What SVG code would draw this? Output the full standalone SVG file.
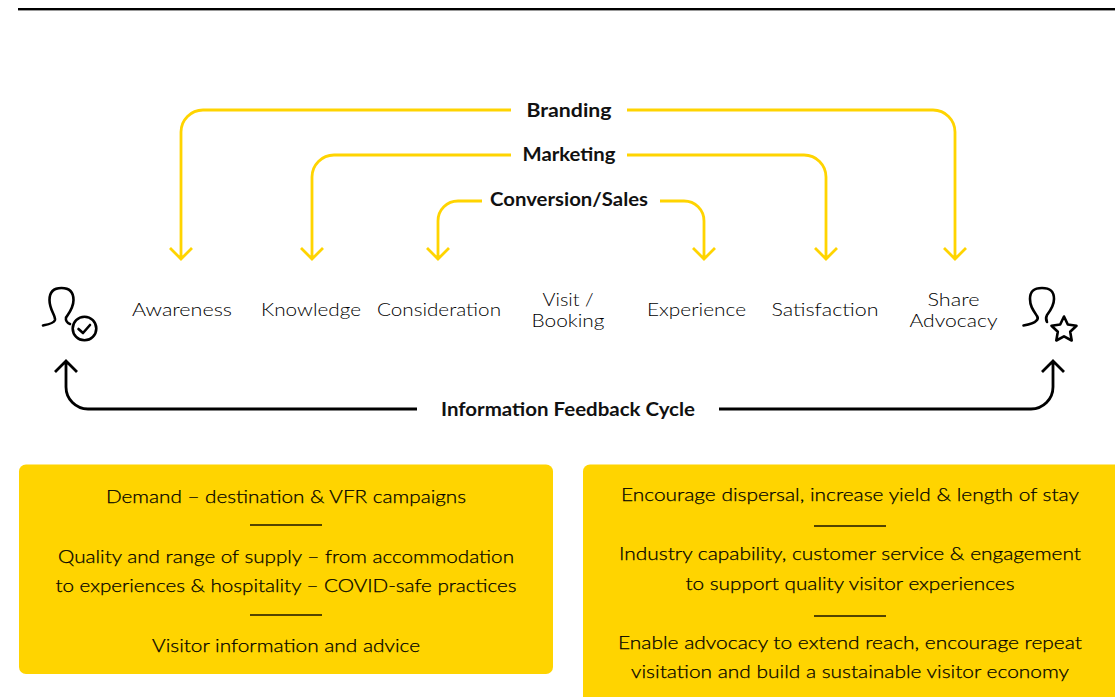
<svg xmlns="http://www.w3.org/2000/svg" width="1115" height="697" viewBox="0 0 1115 697">
<style>
text{font-family:"Lato","Liberation Sans",sans-serif;text-anchor:middle}
.s{font-size:18.5px;fill:#000;font-weight:300}
.b{font-size:18.5px;fill:#111;font-weight:700}
.t{font-size:18.5px;fill:#000;stroke:#000;stroke-width:.25;font-weight:300}
.y{fill:none;stroke:#ffd400;stroke-width:2.8}
.k{fill:none;stroke:#000;stroke-width:2.8}
.i{fill:none;stroke:#000;stroke-width:2.6;stroke-linecap:round;stroke-linejoin:round}
.box{fill:#ffd400}
.d{stroke:#1a1500;stroke-width:1.5}
</style>
<rect x="18" y="8" width="1097" height="2.400" fill="#000"/>
<g id="connectors">
<path class="y" d="M511 110H203A22 22 0 0 0 181 132V259M170 248L181 259L192 248"/>
<path class="y" d="M627 110H933A22 22 0 0 1 955 132V259M944 248L955 259L966 248"/>
<path class="y" d="M511 155H334A22 22 0 0 0 312 177V259M301 248L312 259L323 248"/>
<path class="y" d="M627 155H804A22 22 0 0 1 826 177V259M815 248L826 259L837 248"/>
<path class="y" d="M482 201H458A20 20 0 0 0 438 221V259M427 248L438 259L449 248"/>
<path class="y" d="M660 201H684A20 20 0 0 1 704 221V259M693 248L704 259L715 248"/>
<path class="k" d="M417 409H88A22 22 0 0 1 66 387V361M55 372L66 361L77 372"/>
<path class="k" d="M719 409H1031A22 22 0 0 0 1053 387V361M1042 372L1053 361L1064 372"/>
</g>
<g id="label-branding"><text class="b" x="569" y="117" textLength="85" lengthAdjust="spacingAndGlyphs">Branding</text></g>
<g id="label-marketing"><text class="b" x="569" y="161" textLength="93" lengthAdjust="spacingAndGlyphs">Marketing</text></g>
<g id="label-conversion"><text class="b" x="569" y="206" textLength="158" lengthAdjust="spacingAndGlyphs">Conversion/Sales</text></g>
<g id="label-feedback"><text class="b" x="568" y="416" textLength="254" lengthAdjust="spacingAndGlyphs">Information Feedback Cycle</text></g>
<g id="icon-visitor-check">
<path class="i" d="M43 325.500C48 324.500 54 323.500 55 320C55.500 315 49.500 310 49.500 300C49.500 291.500 53.500 288 61.500 288C69.500 288 73.500 291.500 73.500 300C73.500 308 69 313 66 317.500C65.500 320 67 323 70 324"/>
<circle class="i" cx="84.500" cy="328.500" r="11.800"/>
<path class="i" d="M78.500 329L83 333L90 325"/>
</g>
<g id="icon-visitor-star">
<path class="i" d="M1023.500 325.500C1029 324.500 1034 323.500 1036 321C1038 319.500 1038 317.500 1037 316C1033 310 1030 306 1030 299C1030 291 1034 288 1042 288C1050 288 1054 291 1054 299C1054 306 1050 311 1047 315C1046 317 1046 320 1047 322"/>
<path class="i" d="M1064 316.500L1067.800 324.500L1076.500 325.700L1070.200 331.800L1071.700 340.500L1064 336.300L1056.300 340.500L1057.800 331.800L1051.500 325.700L1060.200 324.500Z"/>
</g>
<g id="stage-awareness"><text class="s" x="182" y="316" textLength="100" lengthAdjust="spacingAndGlyphs">Awareness</text></g>
<g id="stage-knowledge"><text class="s" x="311" y="316" textLength="100" lengthAdjust="spacingAndGlyphs">Knowledge</text></g>
<g id="stage-consideration"><text class="s" x="439" y="316" textLength="124" lengthAdjust="spacingAndGlyphs">Consideration</text></g>
<g id="stage-visit"><text class="s" x="568" y="306" textLength="51" lengthAdjust="spacingAndGlyphs">Visit /</text><text class="s" x="568" y="327" textLength="73" lengthAdjust="spacingAndGlyphs">Booking</text></g>
<g id="stage-experience"><text class="s" x="696.500" y="316" textLength="99" lengthAdjust="spacingAndGlyphs">Experience</text></g>
<g id="stage-satisfaction"><text class="s" x="825" y="316" textLength="107" lengthAdjust="spacingAndGlyphs">Satisfaction</text></g>
<g id="stage-share"><text class="s" x="953.500" y="306" textLength="52" lengthAdjust="spacingAndGlyphs">Share</text><text class="s" x="953.500" y="327" textLength="88" lengthAdjust="spacingAndGlyphs">Advocacy</text></g>
<g id="box-left">
<rect class="box" x="19" y="464.500" width="534" height="209.500" rx="7"/>
<text class="t" x="286" y="503" textLength="360" lengthAdjust="spacingAndGlyphs">Demand – destination &amp; VFR campaigns</text>
<line class="d" x1="250" y1="525" x2="322" y2="525"/>
<text class="t" x="286" y="563" textLength="456" lengthAdjust="spacingAndGlyphs">Quality and range of supply – from accommodation</text>
<text class="t" x="286" y="592" textLength="461" lengthAdjust="spacingAndGlyphs">to experiences &amp; hospitality – COVID-safe practices</text>
<line class="d" x1="250" y1="615" x2="322" y2="615"/>
<text class="t" x="286" y="652" textLength="268" lengthAdjust="spacingAndGlyphs">Visitor information and advice</text>
</g>
<g id="box-right">
<rect class="box" x="583" y="464.500" width="545" height="245" rx="7"/>
<text class="t" x="850" y="501" textLength="458" lengthAdjust="spacingAndGlyphs">Encourage dispersal, increase yield &amp; length of stay</text>
<line class="d" x1="814" y1="526" x2="886" y2="526"/>
<text class="t" x="850" y="560" textLength="462" lengthAdjust="spacingAndGlyphs">Industry capability, customer service &amp; engagement</text>
<text class="t" x="850" y="590" textLength="329" lengthAdjust="spacingAndGlyphs">to support quality visitor experiences</text>
<line class="d" x1="814" y1="616" x2="886" y2="616"/>
<text class="t" x="850" y="649" textLength="464" lengthAdjust="spacingAndGlyphs">Enable advocacy to extend reach, encourage repeat</text>
<text class="t" x="850" y="678" textLength="438" lengthAdjust="spacingAndGlyphs">visitation and build a sustainable visitor economy</text>
</g>
</svg>
